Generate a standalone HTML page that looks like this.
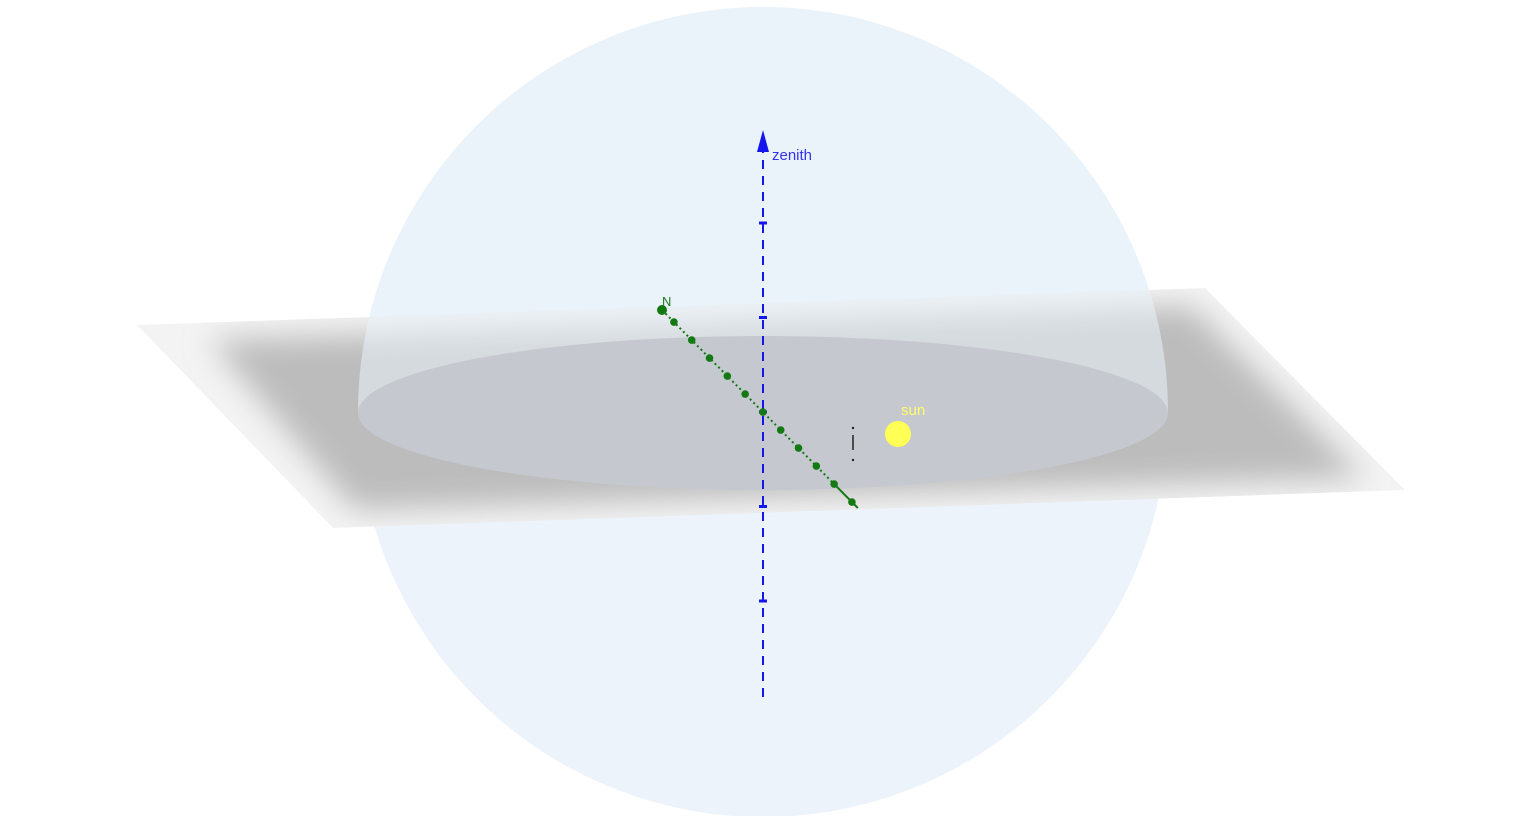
<!DOCTYPE html>
<html><head><meta charset="utf-8"><style>
html,body{margin:0;padding:0;background:#fff;width:1540px;height:816px;overflow:hidden}
svg text{font-family:"Liberation Sans",sans-serif}
</style></head><body>
<svg id="scene" width="1540" height="816" viewBox="0 0 1540 816" xmlns="http://www.w3.org/2000/svg">
<defs>
<clipPath id="planeClip"><polygon points="137,325 1205,288 1405,490 333,528"/></clipPath>
<filter id="blur" x="-20%" y="-50%" width="140%" height="200%"><feGaussianBlur stdDeviation="15"/></filter>
</defs>
<circle cx="763" cy="412" r="405" fill="#ecf3fa"/>
<g clip-path="url(#planeClip)">
<polygon points="137,325 1205,288 1405,490 333,528" fill="#f3f3f3"/>
<polygon points="210,340 1190,306 1365,478 355,510" fill="#bcbcbc" filter="url(#blur)"/>
</g>
<path d="M358,412 A405,405 0 0 1 1168,412 Z" fill="#eaf2fa" opacity="0.55"/>
<ellipse cx="763" cy="413" rx="405" ry="77" fill="#c5c8cf"/>
<g id="axis"></g>
<g id="meridian"></g>
<text x="772" y="160" font-size="15" fill="#3333ee">zenith</text>
<text x="662" y="306" font-size="13" fill="#1a7a1a">N</text>
<g>
<circle cx="853" cy="428" r="1.2" fill="#222"/>
<line x1="853" y1="435" x2="853" y2="450" stroke="#222" stroke-width="1.5"/>
<circle cx="853" cy="460" r="1.2" fill="#222"/>
</g>
<circle cx="898" cy="434" r="13" fill="#ffff55"/>
<text x="901" y="415" font-size="15" fill="#ffff66">sun</text>
</svg>
<script>
const axisTicks = [-2, -1, 0, 1, 2];
const meridianSteps = [0,0.67,1.67,2.67,3.67,4.67,5.67,6.67,7.67,8.67,9.67,10.67];
const NS="http://www.w3.org/2000/svg";
function ay(v){return 412 - v*94.5;}
function mx(t){return 662 + t*17.8;}
function my(t){return 310 + t*18;}
const ax=document.getElementById('axis');
let l=document.createElementNS(NS,'line');
l.setAttribute('x1',763);l.setAttribute('y1',697);l.setAttribute('x2',763);l.setAttribute('y2',150);
l.setAttribute('stroke','#1515ee');l.setAttribute('stroke-width','2');l.setAttribute('stroke-dasharray','9,7');


ax.appendChild(l);
let ar=document.createElementNS(NS,'polygon');
ar.setAttribute('points','763,130 757,152 769,152');ar.setAttribute('fill','#1515ee');


ax.appendChild(ar);
axisTicks.forEach(v=>{
 const t=document.createElementNS(NS,'line');
 t.setAttribute('x1',759);t.setAttribute('x2',767);t.setAttribute('y1',ay(v));t.setAttribute('y2',ay(v));
 t.setAttribute('stroke','#1515ee');t.setAttribute('stroke-width','3');
 
 
 ax.appendChild(t);
});
const mg=document.getElementById('meridian');
let ml=document.createElementNS(NS,'line');
ml.setAttribute('x1',mx(0));ml.setAttribute('y1',my(0));ml.setAttribute('x2',mx(9.67));ml.setAttribute('y2',my(9.67));
ml.setAttribute('stroke','#137a13');ml.setAttribute('stroke-width','2');ml.setAttribute('stroke-dasharray','2,3');


mg.appendChild(ml);
let ms=document.createElementNS(NS,'line');
ms.setAttribute('x1',mx(9.67));ms.setAttribute('y1',my(9.67));ms.setAttribute('x2',mx(11));ms.setAttribute('y2',my(11));
ms.setAttribute('stroke','#137a13');ms.setAttribute('stroke-width','2');


mg.appendChild(ms);
meridianSteps.forEach(s=>{
 const c=document.createElementNS(NS,'circle');
 c.setAttribute('cx',mx(s));c.setAttribute('cy',my(s));c.setAttribute('r',s===0?5:3.8);
 c.setAttribute('fill','#137a13');
 
 
 mg.appendChild(c);
});
</script>
</body></html>
